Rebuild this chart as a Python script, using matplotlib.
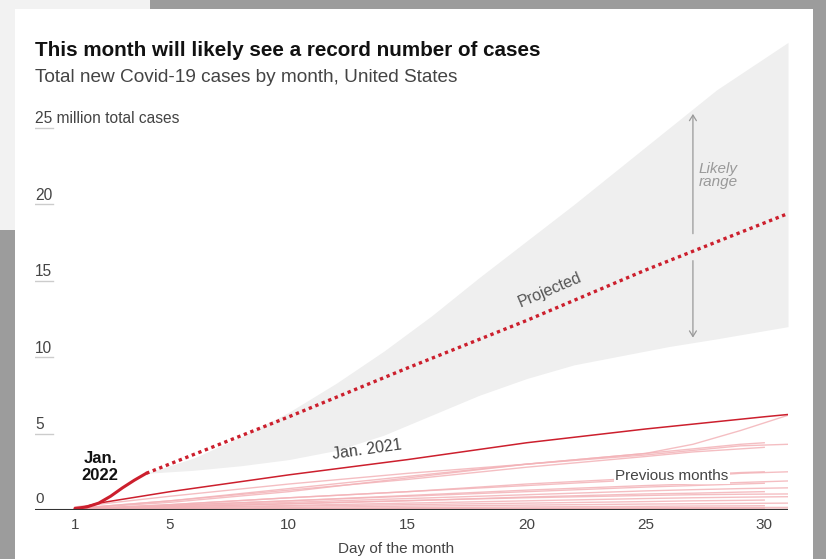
import numpy as np
import matplotlib.pyplot as plt
from matplotlib.patches import Rectangle, FancyArrowPatch

plt.rcParams['font.family'] = ['Liberation Sans', 'DejaVu Sans']

# --- data (million cases, cumulative within the month) ---
jan22_days = [1, 1.5, 2, 2.5, 3, 3.5, 4]
jan22_vals = [0.1, 0.2, 0.45, 0.9, 1.45, 1.95, 2.4]

proj_days = [4, 10, 15, 20, 25, 31]
proj_vals = [2.4, 6.1, 9.3, 12.4, 15.7, 19.4]

band_days = [4, 6, 8, 10, 12, 14, 16, 18, 20, 22, 24, 26, 28, 31]
band_high = [2.4, 3.4, 4.8, 6.4, 8.3, 10.4, 12.7, 15.2, 17.6, 20.0, 22.5, 25.0, 27.5, 30.6]
band_low = [2.4, 2.6, 2.9, 3.3, 3.9, 4.9, 6.2, 7.5, 8.6, 9.5, 10.1, 10.7, 11.2, 12.0]

jan21_days = [1, 2, 5, 10, 15, 20, 25, 30, 31]
jan21_vals = [0.05, 0.45, 1.2, 2.3, 3.3, 4.4, 5.3, 6.1, 6.25]

days31 = [1, 5, 10, 15, 20, 25, 27, 29, 31]
days30 = [1, 5, 10, 15, 20, 25, 27, 29, 30]
prev_months = [
    (days31, [0.1, 0.6, 1.4, 2.2, 3.0, 3.7, 4.3, 5.2, 6.2]),
    (days30, [0.1, 0.5, 1.2, 2.1, 3.0, 3.7, 4.0, 4.3, 4.4]),
    (days31, [0.2, 0.9, 1.7, 2.4, 3.0, 3.6, 3.9, 4.2, 4.3]),
    (days30, [0.1, 0.6, 1.3, 2.0, 2.8, 3.5, 3.8, 4.0, 4.1]),
    (days31, [0.05, 0.35, 0.8, 1.2, 1.6, 2.0, 2.2, 2.4, 2.5]),
    (days30, [0.05, 0.35, 0.8, 1.2, 1.7, 2.1, 2.3, 2.45, 2.5]),
    (days31, [0.05, 0.3, 0.6, 0.95, 1.3, 1.6, 1.7, 1.8, 1.9]),
    (days30, [0.05, 0.3, 0.6, 0.9, 1.2, 1.5, 1.6, 1.7, 1.75]),
    (days31, [0.05, 0.25, 0.5, 0.75, 1.0, 1.25, 1.33, 1.4, 1.45]),
    (days30, [0.04, 0.2, 0.4, 0.6, 0.85, 1.05, 1.1, 1.17, 1.2]),
    (days31, [0.04, 0.2, 0.42, 0.62, 0.8, 0.95, 1.0, 1.03, 1.05]),
    (days31, [0.03, 0.15, 0.3, 0.45, 0.6, 0.75, 0.8, 0.84, 0.87]),
    (days30, [0.03, 0.12, 0.25, 0.35, 0.45, 0.55, 0.6, 0.63, 0.65]),
    (days31, [0.02, 0.08, 0.17, 0.25, 0.32, 0.39, 0.41, 0.43, 0.45]),
    (days30, [0.01, 0.05, 0.1, 0.15, 0.2, 0.24, 0.26, 0.27, 0.28]),
    (days31, [0.01, 0.03, 0.06, 0.09, 0.12, 0.14, 0.15, 0.16, 0.17]),
    (days30, [0.0, 0.02, 0.04, 0.06, 0.08, 0.1, 0.11, 0.115, 0.12]),
    (days31, [0.0, 0.01, 0.02, 0.03, 0.04, 0.05, 0.055, 0.058, 0.06]),
]

yticks = [0, 5, 10, 15, 20, 25]
ytick_labels = ['0', '5', '10', '15', '20', '25']
xticks = [1, 5, 10, 15, 20, 25, 30]

RED = '#cc1f2d'
PINK = '#f3b3b8'
TXT = '#444444'

fig = plt.figure(figsize=(8.26, 5.59), dpi=100)
fig.patch.set_facecolor('#9c9c9c')
# screenshot backdrop: light patch top-left and white card
fig.patches.append(Rectangle((0, 329 / 559), 150 / 826, 230 / 559, transform=fig.transFigure,
                             facecolor='#f2f2f2', edgecolor='none', zorder=0))
fig.patches.append(Rectangle((15 / 826, 0), 798 / 826, 550 / 559, transform=fig.transFigure,
                             facecolor='white', edgecolor='none', zorder=0))

ax = fig.add_axes([35 / 826, 49 / 559, 753 / 826, (510 - 36.3) / 559])
ax.set_zorder(2)
ax.set_facecolor('none')
ax.set_xlim(-0.68, 31)
ax.set_ylim(0, 31)
for s in ax.spines.values():
    s.set_visible(False)
ax.set_yticks([])
ax.set_xticks([])

# band and projection
ax.fill_between(band_days, band_low, band_high, color='#efefef', lw=0, zorder=1)

for d, v in prev_months:
    ax.plot(d, v, color=PINK, lw=1.0, alpha=0.85, zorder=2)

ax.plot(jan21_days, jan21_vals, color=RED, lw=1.1, zorder=3)
ax.plot(proj_days, proj_vals, color=RED, lw=2.4, ls=(0, (1, 1.1)), zorder=4)
ax.plot(jan22_days, jan22_vals, color=RED, lw=2.2, zorder=5, solid_capstyle='round')

# baseline
ax.axhline(0, color='#333333', lw=1.5, zorder=6)

# y labels with short underline
for v in yticks[1:]:
    ax.plot([-0.68, 0.08], [v, v], color='#cccccc', lw=1, zorder=1)
ax.text(-0.68, 0.25, '0', fontsize=11, color=TXT, ha='left', va='bottom', clip_on=False)
for v, lab in zip(yticks[1:], ytick_labels[1:]):
    txt = lab + (' million total cases' if v == 25 else '')
    ax.text(-0.68, v + 0.1, txt, fontsize=11.2, color=TXT, ha='left', va='bottom', clip_on=False)

for x in xticks:
    ax.text(x, -1.0, str(x), fontsize=11, color=TXT, ha='center', va='center', clip_on=False)
ax.text(14.5, -2.55, 'Day of the month', fontsize=11, color=TXT, ha='center', va='center',
        clip_on=False)

# annotations
ax.text(2.05, 2.8, 'Jan.\n2022', fontsize=12, fontweight='bold', ha='center', va='center',
        linespacing=1.2, color='#111111')
ax.text(13.3, 3.95, 'Jan. 2021', fontsize=11.5, color=TXT, ha='center', va='center', rotation=8)
ax.text(21.0, 14.4, 'Projected', fontsize=11.5, color='#555555', ha='center', va='center', rotation=23)
ax.text(26.1, 2.25, 'Previous months', fontsize=11, color=TXT, ha='center', va='center',
        bbox=dict(facecolor='white', edgecolor='none', pad=1), zorder=7)

ax.add_patch(FancyArrowPatch((27.0, 17.9), (27.0, 26.1), arrowstyle='->,head_length=4,head_width=2.5',
                             color='#999999', lw=0.9, zorder=5))
ax.add_patch(FancyArrowPatch((27.0, 16.5), (27.0, 11.1), arrowstyle='->,head_length=4,head_width=2.5',
                             color='#999999', lw=0.9, zorder=5))
ax.text(27.25, 21.9, 'Likely\nrange', fontsize=11, style='italic', color='#999999',
        ha='left', va='center', linespacing=0.95)

# titles
fig.text(35 / 826, 1 - 51 / 559, 'This month will likely see a record number of cases',
         fontsize=14.9, fontweight='bold', color='#111111', ha='left', va='center')
fig.text(35 / 826, 1 - 77 / 559, 'Total new Covid-19 cases by month, United States',
         fontsize=13.7, color=TXT, ha='left', va='center')

fig.savefig('out.png', dpi=100)
